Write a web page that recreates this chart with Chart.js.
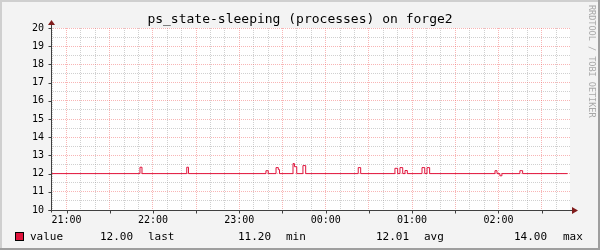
<!DOCTYPE html>
<html>
<head>
<meta charset="utf-8">
<script src="https://cdn.jsdelivr.net/npm/chart.js@4"></script>
<style>
  html, body { margin: 0; padding: 0; background: #f3f3f3; }
  #chart { display: block; }
</style>
</head>
<body>
<canvas id="chart" width="600" height="250"></canvas>
<script>
"use strict";
// minutes after 20:00, value holds from that time until the next one
var times = [49.2, 111.0, 112.4, 143.5, 144.7, 198.5, 200.1, 205.5, 207.1, 207.9,
    217.3, 218.3, 219.9, 224.2, 226.1, 262.6, 264.3, 288.1, 290.0, 291.6,
    293.5, 295.1, 296.7, 306.9, 308.8, 310.4, 312.2, 357.6, 359.0, 361.0,
    362.4, 374.9, 376.8, 408.0];
var values = [12, 12.35, 12, 12.35, 12, 12.16, 12, 12.33, 12.22, 12,
    12.55, 12.38, 12, 12.44, 12, 12.33, 12, 12.29, 12, 12.33,
    12, 12.17, 12, 12.33, 12, 12.33, 12, 12.16, 12, 11.88,
    12, 12.16, 12, 12];

var hourTicks = [60, 120, 180, 240, 300, 360];
var hourLabels = ["21:00", "22:00", "23:00", "00:00", "01:00", "02:00"];

var legendNames = ["last", "min", "avg", "max"];
var legendStats = ["12.00", "11.20", "12.01", "14.00"];

var title = "ps_state-sleeping (processes) on forge2";
var seriesName = "value";
var lineColor = "#e0143c";
var mono = "'DejaVu Sans Mono', monospace";
var majorGrid = "rgba(240, 90, 90, 0.45)";
var minorGrid = "rgba(150, 150, 150, 0.45)";

(function () {
    var xMin = 49.2;
    var xMax = 409.7;

    var points = times.map(function (t, i) {
        return { x: t, y: values[i] };
    });

    // grid positions: major every 30 min / 1 unit, minor every 10 min / 0.5 unit
    var xMajor = [], xMinor = [], yMajor = [], yMinor = [];
    for (var m = 50; m <= xMax; m += 10) {
        if (m % 30 === 0) xMajor.push({ value: m });
        else xMinor.push({ value: m });
    }
    for (var v = 10; v <= 20; v += 0.5) {
        if (v % 1 === 0) yMajor.push({ value: v });
        else yMinor.push({ value: v });
    }

    function setTicks(list) {
        return function (s) { s.ticks = list.slice(); };
    }

    var rrdLook = {
        id: "rrdLook",
        beforeDraw: function (chart) {
            var c = chart.ctx;
            var a = chart.chartArea;
            c.save();
            c.fillStyle = "#f3f3f3";
            c.fillRect(0, 0, 600, 250);
            // frame
            c.fillStyle = "#cfcfcf";
            c.fillRect(0, 0, 600, 2);
            c.fillRect(0, 0, 2, 250);
            c.fillStyle = "#9e9e9e";
            c.fillRect(0, 248, 600, 2);
            c.fillRect(598, 0, 2, 250);
            c.fillStyle = "#ffffff";
            c.fillRect(a.left, a.top, a.right - a.left, a.bottom - a.top);
            c.restore();
        },
        afterDraw: function (chart) {
            var c = chart.ctx;
            var a = chart.chartArea;
            var xs = chart.scales.x;
            var ys = chart.scales.y;
            var x0 = Math.round(a.left) + 0.5;
            var y0 = Math.round(a.bottom) + 0.5;
            c.save();

            // axes
            c.strokeStyle = "#404040";
            c.lineWidth = 1;
            c.beginPath();
            c.moveTo(x0, y0 + 2);
            c.lineTo(x0, a.top - 5);
            c.moveTo(x0 - 3, y0);
            c.lineTo(a.right + 4, y0);
            ys.ticks.forEach(function (t) {
                var py = Math.round(ys.getPixelForValue(t.value)) + 0.5;
                c.moveTo(x0 - 3, py);
                c.lineTo(x0, py);
            });
            xs.ticks.forEach(function (t) {
                var px = Math.round(xs.getPixelForValue(t.value)) + 0.5;
                c.moveTo(px, y0);
                c.lineTo(px, y0 + 3);
            });
            c.stroke();

            // arrows
            c.fillStyle = "#801c1c";
            c.beginPath();
            c.moveTo(x0 - 3.5, a.top - 3);
            c.lineTo(x0 + 3.5, a.top - 3);
            c.lineTo(x0, a.top - 8);
            c.closePath();
            c.fill();
            c.beginPath();
            c.moveTo(a.right + 2, y0 - 3.5);
            c.lineTo(a.right + 2, y0 + 3.5);
            c.lineTo(a.right + 8, y0);
            c.closePath();
            c.fill();

            // title
            c.fillStyle = "#000000";
            c.font = "13px " + mono;
            c.textAlign = "center";
            c.textBaseline = "alphabetic";
            c.fillText(title, 300, 23);

            // legend
            c.fillStyle = lineColor;
            c.fillRect(15, 232, 9, 9);
            c.strokeStyle = "#000000";
            c.strokeRect(15.5, 232.5, 8, 8);
            c.fillStyle = "#000000";
            c.font = "11px " + mono;
            c.textAlign = "left";
            c.textBaseline = "middle";
            c.fillText(seriesName, 30, 237);
            var statX = [100, 238, 376, 514];
            var nameX = [148, 286, 424, 563];
            for (var i = 0; i < legendStats.length; i++) {
                c.fillText(legendStats[i], statX[i], 237);
                c.fillText(legendNames[i], nameX[i], 237);
            }

            // watermark
            c.translate(591, 5);
            c.rotate(Math.PI / 2);
            c.fillStyle = "#a8a8a8";
            c.font = "8.5px " + mono;
            c.textAlign = "left";
            c.textBaseline = "middle";
            c.fillText("RRDTOOL / TOBI OETIKER", 0, 0);
            c.restore();
        }
    };

    var ctx = document.getElementById("chart").getContext("2d");
    var chart = new Chart(ctx, {
        type: "line",
        data: {
            datasets: [{
                label: seriesName,
                data: points,
                borderColor: lineColor,
                borderWidth: 1,
                pointRadius: 0,
                stepped: true,
                fill: false,
                xAxisID: "x",
                yAxisID: "y"
            }]
        },
        options: {
            responsive: false,
            animation: false,
            devicePixelRatio: 1,
            layout: { padding: { top: 28, right: 30, left: 0, bottom: 0 } },
            plugins: {
                legend: { display: false },
                title: { display: false },
                tooltip: { enabled: false }
            },
            scales: {
                x2: {
                    type: "linear",
                    position: "bottom",
                    min: xMin,
                    max: xMax,
                    afterBuildTicks: setTicks(xMinor),
                    ticks: { display: false },
                    grid: { drawTicks: false, color: minorGrid },
                    border: { display: false, dash: [1, 1] },
                    afterFit: function (s) { s.height = 0; }
                },
                x: {
                    type: "linear",
                    position: "bottom",
                    min: xMin,
                    max: xMax,
                    afterBuildTicks: setTicks(xMajor),
                    ticks: {
                        maxRotation: 0,
                        autoSkip: false,
                        padding: 4,
                        color: "#000000",
                        font: { family: mono, size: 10 },
                        callback: function (v) {
                            var k = hourTicks.indexOf(v);
                            return k >= 0 ? hourLabels[k] : "";
                        }
                    },
                    grid: { drawTicks: false, color: majorGrid },
                    border: { display: false, dash: [1, 1] },
                    afterFit: function (s) { s.height = 40; }
                },
                y2: {
                    type: "linear",
                    position: "left",
                    min: 10,
                    max: 20,
                    afterBuildTicks: setTicks(yMinor),
                    ticks: { display: false },
                    grid: { drawTicks: false, color: minorGrid },
                    border: { display: false, dash: [1, 1] },
                    afterFit: function (s) { s.width = 0; }
                },
                y: {
                    type: "linear",
                    position: "left",
                    min: 10,
                    max: 20,
                    afterBuildTicks: setTicks(yMajor),
                    ticks: {
                        padding: 7,
                        color: "#000000",
                        font: { family: mono, size: 10 }
                    },
                    grid: { drawTicks: false, color: majorGrid },
                    border: { display: false, dash: [1, 1] },
                    afterFit: function (s) { s.width = 51; }
                }
            }
        },
        plugins: [rrdLook]
    });
})();
</script>
</body>
</html>
